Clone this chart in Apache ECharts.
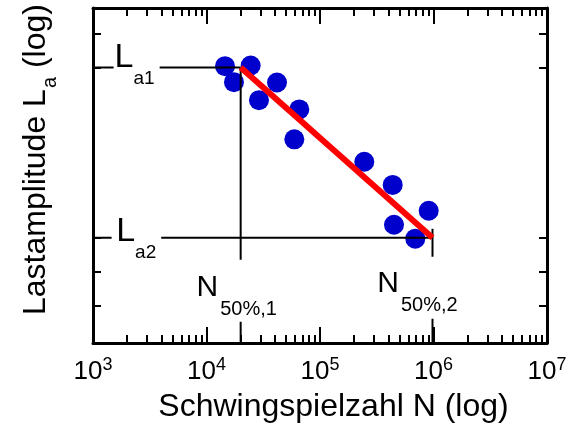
<!DOCTYPE html>
<html><head><meta charset="utf-8">
<script src="https://cdn.jsdelivr.net/npm/echarts@6/dist/echarts.min.js"></script>
<style>html,body{margin:0;padding:0;background:#fff}#c{width:577px;height:429px}</style>
</head><body><div id="c"></div>
<script>
// ---- data ----
const xMin = 1e3, xMax = 1e7;            // Schwingspielzahl range
const yMin = -0.1, yMax = 9.75;          // Lastamplitude (log, arbitrary units)
const yTickValues = [1, 2, 3, 8, 9];
const minorMultipliers = [2, 3, 4, 5, 6, 7, 8, 9];
const minorDecades = [1e3, 1e4, 1e5, 1e6];
const cyclesN = [14560, 24500, 17460, 41800, 29000, 65700, 59400, 245600, 437000, 907000, 448700, 691000];
const amplitudeLog = [8.04, 8.06, 7.57, 7.56, 7.04, 6.77, 5.89, 5.23, 4.55, 3.79, 3.38, 2.97];
const La1 = 8, La2 = 3;
const N1 = 2.0e4, N2 = 9.8e5;
const N2MarkTop = 3.26;
const annKeys = ['La1', 'La2', 'N1', 'N2'];
const annAnchors = [[xMin, La1], [xMin, La2], [N1, La2], [N2, La2]];
const labelTexts = { La1: ['L', 'a1'], La2: ['L', 'a2'], N1: ['N', '50%,1'], N2: ['N', '50%,2'] };

// ---- styles ----
const FONT = '"Liberation Sans", Arial, Helvetica, sans-serif';
const minorLog = [];
minorDecades.forEach(d => minorMultipliers.forEach(m => minorLog.push(Math.log10(m * d))));

const axisLineStyle = { show: true, onZero: false, lineStyle: { color: '#000', width: 3 } };
const tickStyle = { color: '#000', width: 2 };

function segment(a, b) {
  return { type: 'line', data: [a, b], symbol: 'none', lineStyle: { color: '#000', width: 2 },
    z: 3, silent: true, animation: false, xAxisIndex: 0, yAxisIndex: 0 };
}

const LRich = {
  M: { fontSize: 34, lineHeight: 36, verticalAlign: 'top', fontFamily: FONT, fill: '#000' },
  S: { fontSize: 19, lineHeight: 19, verticalAlign: 'top', fontFamily: FONT, fill: '#000', padding: [29, 0, 0, 0] }
};
const NRich = {
  M: { fontSize: 30, lineHeight: 32, verticalAlign: 'top', fontFamily: FONT, fill: '#000' },
  S: { fontSize: 20, lineHeight: 20, verticalAlign: 'top', fontFamily: FONT, fill: '#000', padding: [27, 0, 0, 2] }
};
const annStyles = {
  La1: { rich: LRich, align: 'left', offset: [20.6, -29.2], padding: [2, 5, 4, 1] },
  La2: { rich: LRich, align: 'left', offset: [18.6, -25.2], padding: [2, 5, 4, 4.6] },
  N1: { rich: NRich, align: 'center', offset: [-4, 22], padding: [13, 4, 17, 4] },
  N2: { rich: NRich, align: 'center', offset: [-15, 19], padding: [12, 4, 18, 4] }
};

const option = {
  animation: false,
  backgroundColor: '#fff',
  grid: { left: 93, right: 30, top: 8, bottom: 84 },
  xAxis: [
    { type: 'log', logBase: 10, min: xMin, max: xMax, position: 'bottom',
      axisLine: axisLineStyle,
      axisTick: { show: true, inside: true, length: 16, lineStyle: tickStyle },
      axisLabel: { show: true, margin: 13, showMinLabel: true, showMaxLabel: true,
        formatter: v => '{b|10}{s|' + Math.round(Math.log10(v)) + '}',
        rich: {
          b: { fontSize: 26, lineHeight: 28, padding: [4, 0, 0, 0], fontFamily: FONT, color: '#000' },
          s: { fontSize: 18, lineHeight: 18, verticalAlign: 'top', fontFamily: FONT, color: '#000' }
        } },
      splitLine: { show: false },
      name: 'Schwingspielzahl N (log)', nameLocation: 'middle', nameGap: 44,
      nameTextStyle: { fontSize: 32, lineHeight: 34, fontFamily: FONT, color: '#000', padding: [0, 0, 0, 27] } },
    { type: 'log', logBase: 10, min: xMin, max: xMax, position: 'top',
      axisLine: axisLineStyle,
      axisTick: { show: true, inside: true, length: 16, lineStyle: tickStyle },
      axisLabel: { show: false }, splitLine: { show: false } },
    { type: 'value', min: 3, max: 7, position: 'bottom',
      axisLine: { show: false, onZero: false },
      axisTick: { show: true, inside: true, length: 8, customValues: minorLog, lineStyle: tickStyle },
      axisLabel: { show: false }, splitLine: { show: false } },
    { type: 'value', min: 3, max: 7, position: 'top',
      axisLine: { show: false, onZero: false },
      axisTick: { show: true, inside: true, length: 8, customValues: minorLog, lineStyle: tickStyle },
      axisLabel: { show: false }, splitLine: { show: false } }
  ],
  yAxis: [
    { type: 'value', min: yMin, max: yMax, position: 'left',
      axisLine: axisLineStyle,
      axisTick: { show: true, inside: true, length: 8, customValues: yTickValues, lineStyle: tickStyle },
      axisLabel: { show: false }, splitLine: { show: false },
      name: '{m|Lastamplitude L}{s|a}{m| (log)}', nameLocation: 'middle', nameRotate: 90, nameGap: 39,
      nameTextStyle: { padding: [0, 0, 0, 32],
        rich: {
          m: { fontSize: 32, lineHeight: 34, verticalAlign: 'top', fontFamily: FONT, color: '#000' },
          s: { fontSize: 20, lineHeight: 20, verticalAlign: 'top', fontFamily: FONT, color: '#000', padding: [20, 0, 0, 1] }
        } } },
    { type: 'value', min: yMin, max: yMax, position: 'right',
      axisLine: axisLineStyle,
      axisTick: { show: true, inside: true, length: 8, customValues: yTickValues, lineStyle: tickStyle },
      axisLabel: { show: false }, splitLine: { show: false } }
  ],
  series: [
    { type: 'scatter', xAxisIndex: 0, yAxisIndex: 0, symbolSize: 20, z: 2,
      itemStyle: { color: '#0000cc', opacity: 1 },
      data: cyclesN.map((n, i) => [n, amplitudeLog[i]]) },
    segment([xMin, La1], [N1, La1]),
    segment([xMin, La2], [N2, La2]),
    segment([N1, La1], [N1, yMin]),
    segment([N2, N2MarkTop], [N2, yMin]),
    { type: 'line', xAxisIndex: 0, yAxisIndex: 0, data: [[N1, La1], [N2, La2]], symbol: 'none', z: 4,
      lineStyle: { color: '#ff0000', width: 6 } },
    { type: 'custom', xAxisIndex: 0, yAxisIndex: 0, z: 10, silent: true, clip: false,
      data: annAnchors,
      renderItem: function (params, api) {
        const key = annKeys[params.dataIndex];
        const st = annStyles[key];
        const p = api.coord([api.value(0), api.value(1)]);
        return { type: 'text', x: p[0] + st.offset[0], y: p[1] + st.offset[1], z2: 10,
          style: { text: '{M|' + labelTexts[key][0] + '}{S|' + labelTexts[key][1] + '}',
            rich: st.rich, fill: '#000', font: '31px ' + FONT,
            align: st.align, verticalAlign: 'top', backgroundColor: '#fff', padding: st.padding } };
      } }
  ]
};
const chart = echarts.init(document.getElementById('c'), null, { renderer: 'canvas' });
chart.setOption(option);
</script></body></html>
